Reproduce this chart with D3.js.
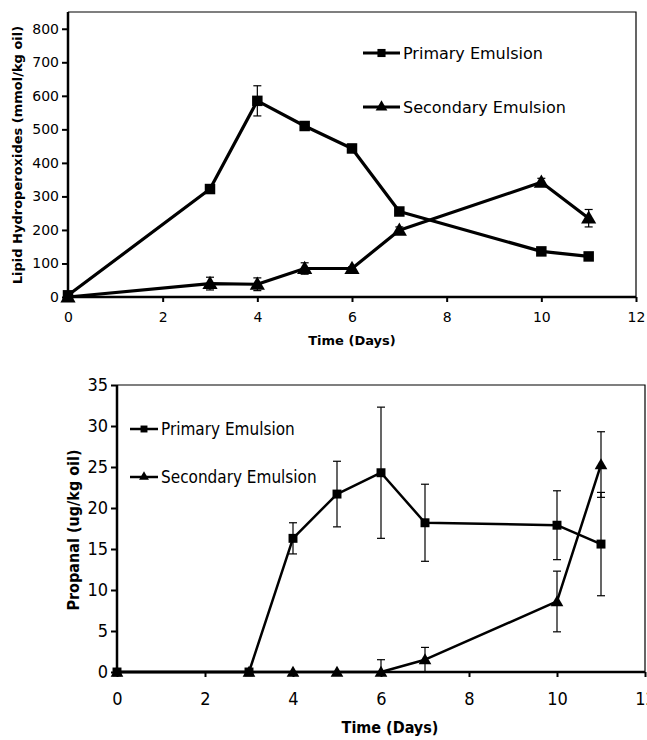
<!DOCTYPE html>
<html>
<head>
<meta charset="utf-8">
<script src="https://cdn.jsdelivr.net/npm/d3@7"></script>
<style>
  body { margin: 0; background: #fff; }
  svg { display: block; }
</style>
</head>
<body>
<svg id="chart" width="647" height="740"></svg>
<script>
// ---- data: top panel (lipid hydroperoxides)
const days = [0, 3, 4, 5, 6, 7, 10, 11];
const hydroPrimary = [5, 322, 585, 510, 443, 255, 136, 121];
const hydroPrimaryErr = [3, 8, 45, 12, 12, 10, 8, 6];
const hydroSecondary = [0, 40, 38, 85, 85, 199, 342, 235];
const hydroSecondaryErr = [0, 19, 19, 17, 5, 10, 12, 26];

// ---- data: bottom panel (propanal)
const propPrimary = [0, 0, 16.3, 21.7, 24.3, 18.2, 17.9, 15.6];
const propPrimaryErr = [0, 0, 1.9, 4.0, 8.0, 4.7, 4.2, 6.3];
const propSecondary = [0, 0, 0, 0, 0, 1.5, 8.6, 25.3];
const propSecondaryErr = [0, 0, 0, 0, 1.5, 1.5, 3.7, 4.0];

const xTicks = [0, 2, 4, 6, 8, 10, 12];
const hydroTicks = [0, 100, 200, 300, 400, 500, 600, 700, 800];
const propTicks = [0, 5, 10, 15, 20, 25, 30, 35];
const seriesNames = ["Primary Emulsion", "Secondary Emulsion"];

const svg = d3.select("#chart");

function toRows(vals, errs) {
  return days.map((d, i) => ({x: d, y: vals[i], e: errs[i]}));
}

function drawPanel(o) {
  const x = d3.scaleLinear().domain([0, 12]).range([o.left, o.right]);
  const y = d3.scaleLinear().domain(o.yDomain).range([o.bottom, o.top]);
  const g = svg.append("g");

  // frame: thin top/right
  g.append("path")
    .attr("d", `M${o.left},${o.top}H${o.right}V${o.bottom}`)
    .attr("fill", "none").attr("stroke", "#000").attr("stroke-width", 1.2);

  const xAxis = g.append("g")
    .attr("transform", `translate(0,${o.bottom})`)
    .call(d3.axisBottom(x).tickValues(xTicks).tickSize(5).tickPadding(o.xPad));
  const yAxis = g.append("g")
    .attr("transform", `translate(${o.left},0)`)
    .call(d3.axisLeft(y).tickValues(o.yTicks).tickSize(6).tickPadding(3));

  [xAxis, yAxis].forEach(a => {
    a.select(".domain").attr("stroke-width", 2.5);
    a.selectAll(".tick line").attr("stroke-width", 2);
    a.selectAll("text")
      .attr("font-family", o.font)
      .attr("font-size", o.tickSize)
      .attr("fill", "#000");
  });
  yAxis.select(".domain").attr("d", `M0,${o.bottom}V${o.top}`);
  xAxis.select(".domain").attr("d", `M${o.left},0H${o.right}`);

  g.append("text")
    .attr("x", o.xTitleX).attr("y", o.xTitleY)
    .attr("text-anchor", "middle")
    .attr("font-family", o.titleFont).attr("font-weight", "bold")
    .attr("font-size", o.titleSize)
    .text("Time (Days)");

  g.append("text")
    .attr("transform", `translate(${o.yTitleX},${o.yTitleY}) rotate(-90)`)
    .attr("text-anchor", "middle")
    .attr("font-family", o.titleFont).attr("font-weight", "bold")
    .attr("font-size", o.titleSize)
    .text(o.yTitle);

  const line = d3.line().x(d => x(d.x)).y(d => y(d.y));
  const shapes = [d3.symbolSquare, d3.symbolTriangle];

  o.series.forEach((rows, si) => {
    // error bars
    const eb = g.append("g").attr("stroke", "#000").attr("stroke-width", 1.2);
    rows.filter(d => d.e > 0).forEach(d => {
      const y0 = y(Math.max(0, d.y - d.e)), y1 = y(d.y + d.e), cx = x(d.x);
      eb.append("line").attr("x1", cx).attr("x2", cx).attr("y1", y0).attr("y2", y1);
      eb.append("line").attr("x1", cx - 4).attr("x2", cx + 4).attr("y1", y1).attr("y2", y1);
      if (d.y - d.e > 0)
        eb.append("line").attr("x1", cx - 4).attr("x2", cx + 4).attr("y1", y0).attr("y2", y0);
    });
    g.append("path").datum(rows)
      .attr("d", line)
      .attr("fill", "none").attr("stroke", "#000")
      .attr("stroke-width", o.lineW).attr("stroke-linejoin", "round");
    g.selectAll(null).data(rows).join("path")
      .attr("transform", d => `translate(${x(d.x)},${y(d.y) + (si === 1 ? 1 : 0)})`)
      .attr("d", d3.symbol().type(shapes[si]).size(o.symSize[si]))
      .attr("fill", "#000");

    // legend
    const ly = o.legendY[si];
    g.append("line")
      .attr("x1", o.legendX[0]).attr("x2", o.legendX[1])
      .attr("y1", ly).attr("y2", ly)
      .attr("stroke", "#000").attr("stroke-width", o.lineW);
    g.append("path")
      .attr("transform", `translate(${(o.legendX[0] + o.legendX[1]) / 2},${ly})`)
      .attr("d", d3.symbol().type(shapes[si]).size(o.symSize[si] * 0.6))
      .attr("fill", "#000");
    g.append("text")
      .attr("x", o.legendX[1] + 3).attr("y", ly)
      .attr("dy", "0.35em")
      .attr("font-family", o.font).attr("font-size", o.legendSize)
      .text(seriesNames[si]);
  });
}

drawPanel({
  left: 68, right: 636, top: 12, bottom: 297,
  yDomain: [0, 850], yTicks: hydroTicks,
  font: "DejaVu Sans", tickSize: 14, xPad: 10,
  titleFont: "DejaVu Sans", titleSize: 13,
  xTitleX: 352, xTitleY: 345,
  yTitleX: 22, yTitleY: 155,
  yTitle: "Lipid Hydroperoxides (mmol/kg oil)",
  lineW: 3.2, symSize: [110, 100],
  legendX: [363, 400], legendY: [53, 107], legendSize: 16,
  series: [toRows(hydroPrimary, hydroPrimaryErr), toRows(hydroSecondary, hydroSecondaryErr)]
});

drawPanel({
  left: 117, right: 645, top: 385, bottom: 672,
  yDomain: [0, 35], yTicks: propTicks,
  font: "DejaVu Sans Condensed", tickSize: 18, xPad: 15,
  titleFont: "DejaVu Sans Condensed", titleSize: 16,
  xTitleX: 390, xTitleY: 733,
  yTitleX: 79, yTitleY: 530,
  yTitle: "Propanal (ug/kg oil)",
  lineW: 2.5, symSize: [80, 70],
  legendX: [130, 158], legendY: [429, 477], legendSize: 17,
  series: [toRows(propPrimary, propPrimaryErr), toRows(propSecondary, propSecondaryErr)]
});
</script>
</body>
</html>
